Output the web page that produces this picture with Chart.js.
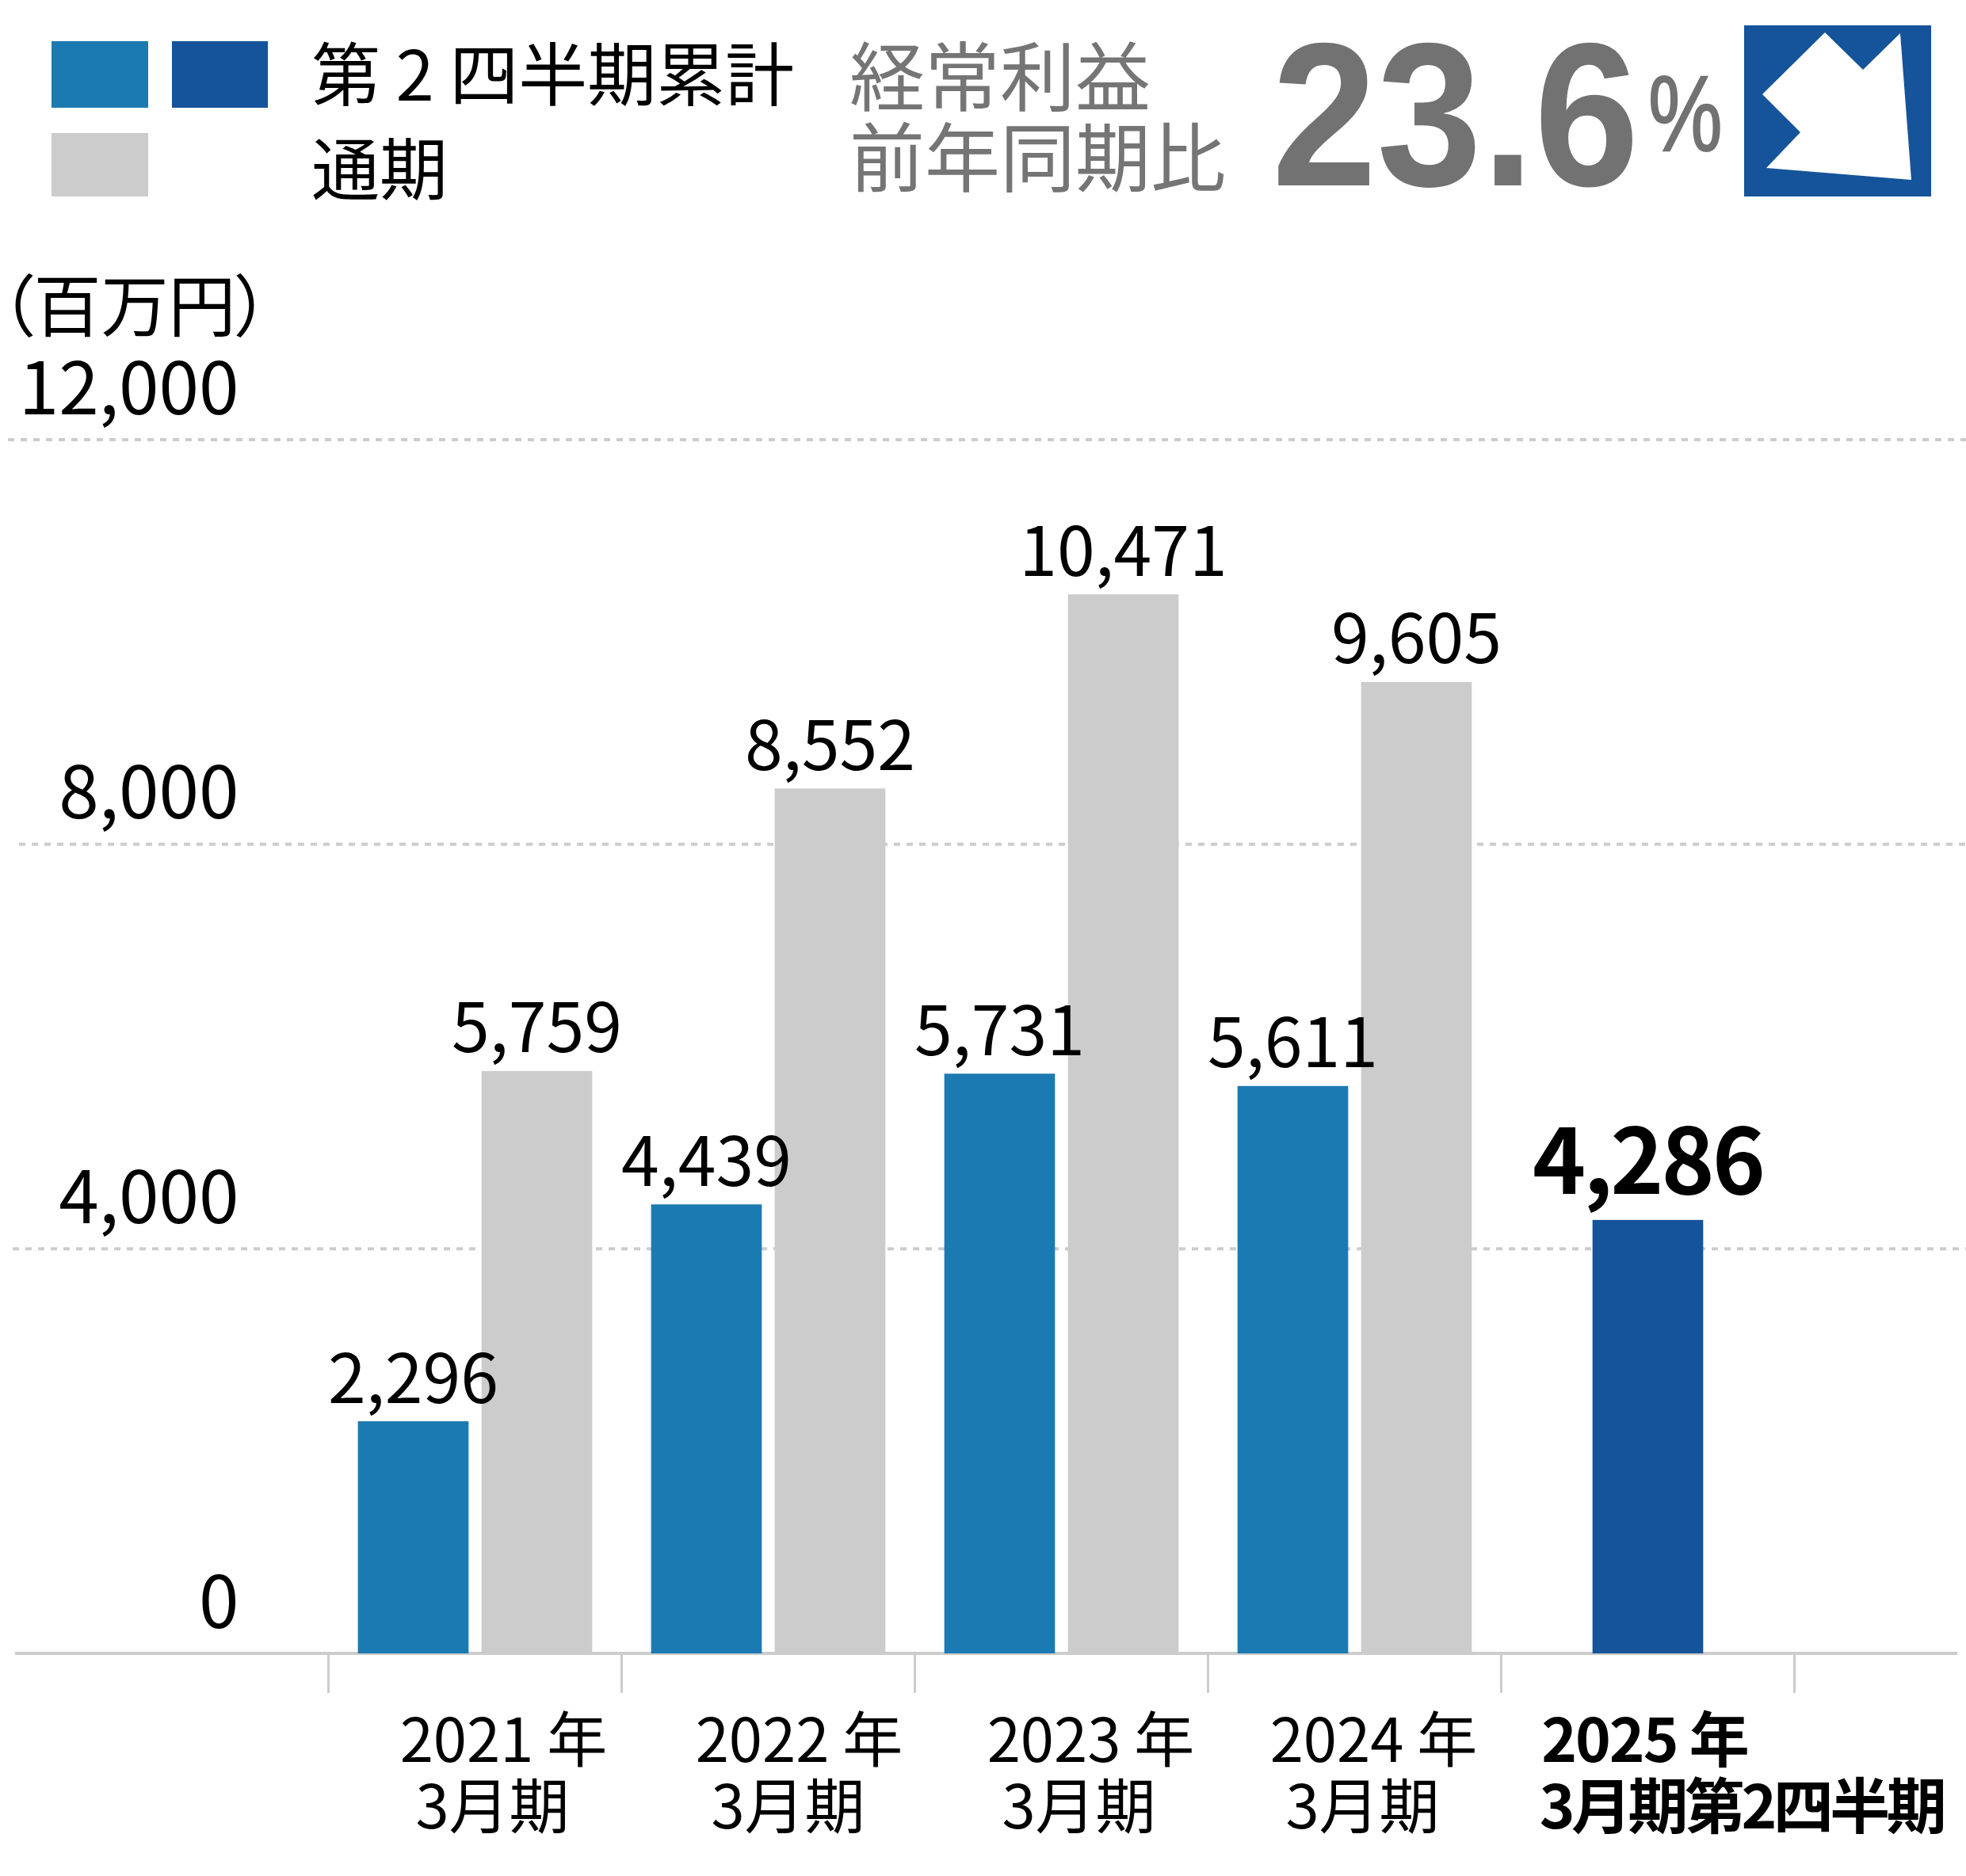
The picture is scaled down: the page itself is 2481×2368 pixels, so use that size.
<!DOCTYPE html>
<html lang="ja">
<head>
<meta charset="utf-8">
<title>経常利益</title>
<script src="https://cdn.jsdelivr.net/npm/chart.js@4"></script>
<style>
    html, body { margin: 0; padding: 0; background: #fff; }
    #wrap { position: relative; width: 2481px; height: 2368px; overflow: hidden; font-family: "Noto Sans CJK JP", sans-serif; }
    canvas { display: block; }
    .swatch { position: absolute; }
    .t { position: absolute; white-space: nowrap; line-height: 1; transform-origin: left center; }
    .kpi { color: #757575; font-size: 95px; }
    .num { color: #727272; font-family: "Liberation Sans", sans-serif; }
</style>
</head>
<body>
<div id="wrap">
    <canvas id="chart" width="2481" height="2368"></canvas>

    <div class="swatch" style="left:65px;top:52px;width:122px;height:84px;background:#1c7ab2"></div>
    <div class="swatch" style="left:217px;top:52px;width:121px;height:84px;background:#15549a"></div>
    <div class="swatch" style="left:65px;top:168px;width:122px;height:80px;background:#cccccc"></div>
    <div class="t" style="left:393px;top:46px;font-size:87px">第 2 四半期累計</div>
    <div class="t" style="left:393px;top:166px;font-size:86px">通期</div>

    <div class="t kpi" style="left:1072px;top:44px">経常利益</div>
    <div class="t kpi" style="left:1072px;top:146px">前年同期比</div>
    <div class="t num" style="left:1605px;top:16px;font-size:258px;font-weight:bold;transform:scaleX(0.923)">23.6</div>
    <div class="t num" style="left:2080px;top:76px;font-size:135px;transform:scaleX(0.78);-webkit-text-stroke:2px #727272">%</div>
    <svg style="position:absolute;left:2201px;top:32px" width="236" height="216" viewBox="2201 32 236 216">
        <rect x="2201" y="32" width="236" height="216" fill="#15549a"></rect>
        <polygon points="2303,41 2351,88 2398,42 2412,227 2229,212 2272,167 2224,119" fill="#fff"></polygon>
    </svg>

    <div class="t" style="left:0px;top:338px;font-size:85px;font-feature-settings:'palt'">（百万円）</div>
</div>

<script>
const categories = [
    ['2021 年', '3月期'],
    ['2022 年', '3月期'],
    ['2023 年', '3月期'],
    ['2024 年', '3月期'],
    ['2025 年', '3月期第2四半期']
];
const halfYear = [2296, 4439, 5731, 5611, 4286];
const fullYear = [5759, 8552, 10471, 9605, null];
const yTicks = [0, 4000, 8000, 12000];

const halfYearColors = ['#1c7ab2', '#1c7ab2', '#1c7ab2', '#1c7ab2', '#15549a'];

const FONT = '"Noto Sans CJK JP", sans-serif';
const LAST = categories.length - 1;

// dotted grid lines and the base line run past the plot area, so they are drawn here
const extendedGrid = {
    id: 'extendedGrid',
    beforeDatasetsDraw: function (chart) {
        const ctx = chart.ctx;
        const y = chart.scales.y;
        const starts = { 4000: 16, 8000: 24, 12000: 10 };
        ctx.save();
        ctx.strokeStyle = '#cccccc';
        yTicks.forEach(function (v) {
            const py = y.getPixelForValue(v);
            ctx.beginPath();
            if (v === 0) {
                ctx.setLineDash([]);
                ctx.lineWidth = 4;
                ctx.moveTo(19, py);
                ctx.lineTo(2470, py);
            } else {
                ctx.setLineDash([8, 8]);
                ctx.lineWidth = 4;
                ctx.moveTo(starts[v], py);
                ctx.lineTo(2481, py);
            }
            ctx.stroke();
        });
        ctx.restore();
    }
};

// value labels above the bars
const valueLabels = {
    id: 'valueLabels',
    afterDatasetsDraw: function (chart) {
        const ctx = chart.ctx;
        ctx.save();
        ctx.textAlign = 'center';
        ctx.textBaseline = 'middle';
        ctx.fillStyle = '#000';
        chart.data.datasets.forEach(function (ds, i) {
            chart.getDatasetMeta(i).data.forEach(function (bar, j) {
                if (ds.data[j] === null) return;
                const bold = j === LAST;
                ctx.font = (bold ? 'bold 114px ' : '86px ') + FONT;
                ctx.letterSpacing = bold ? '-3px' : '0px';
                ctx.fillText(ds.data[j].toLocaleString('en-US'), bar.x, bar.y - (bold ? 76 : 56));
            });
        });
        ctx.restore();
    }
};

// category labels sit off-centre in the source, each line by its own amount
const categoryLabels = {
    id: 'categoryLabels',
    afterDraw: function (chart) {
        const ctx = chart.ctx;
        const x = chart.scales.x;
        const shifts = [[36, 22], [39, 25], [37, 22], [24, 10], [-4, 118]];
        ctx.save();
        ctx.textAlign = 'center';
        ctx.textBaseline = 'middle';
        ctx.fillStyle = '#000';
        categories.forEach(function (lines, i) {
            const last = i === LAST;
            ctx.font = (last ? 'bold ' : '') + '76px ' + FONT;
            lines.forEach(function (line, k) {
                ctx.letterSpacing = last ? (k === 0 ? '-2px' : '-4.5px') : '0px';
                ctx.fillText(line, x.getPixelForTick(i) + shifts[i][k], 2195 + k * 84);
            });
        });
        ctx.restore();
    }
};

new Chart(document.getElementById('chart'), {
    type: 'bar',
    data: {
        labels: categories,
        datasets: [
            {
                label: '第2四半期累計',
                data: halfYear,
                backgroundColor: halfYearColors
            },
            {
                label: '通期',
                data: fullYear,
                backgroundColor: '#cccccc'
            }
        ]
    },
    options: {
        responsive: false,
        animation: false,
        devicePixelRatio: 1,
        layout: { padding: { top: 555, right: 216.5, left: 0, bottom: 0 } },
        datasets: {
            bar: {
                // skipNull centres the lone last bar; the clear side borders make the gap inside a pair
                skipNull: true,
                barThickness: 156,
                borderSkipped: false,
                borderColor: 'rgba(0,0,0,0)',
                borderWidth: { left: 8.5, right: 8.5, top: 0, bottom: 0 }
            }
        },
        scales: {
            x: {
                afterFit: function (scale) { scale.height = 281; },
                border: { display: false },
                grid: {
                    offset: true,
                    drawOnChartArea: false,
                    color: '#cccccc',
                    lineWidth: 3,
                    tickLength: 50
                },
                ticks: { display: false, autoSkip: false }
            },
            y: {
                min: 0,
                max: 12000,
                afterFit: function (scale) { scale.width = 414.5; },
                border: { display: false },
                grid: { display: false, drawTicks: false },
                ticks: {
                    stepSize: 4000,
                    padding: 113,
                    labelOffset: -67,
                    color: '#000',
                    font: { family: FONT, size: 91 },
                    callback: function (value) { return value.toLocaleString('en-US'); }
                }
            }
        },
        plugins: {
            legend: { display: false },
            tooltip: { enabled: false }
        }
    },
    plugins: [extendedGrid, valueLabels, categoryLabels]
});
</script>
</body>
</html>
